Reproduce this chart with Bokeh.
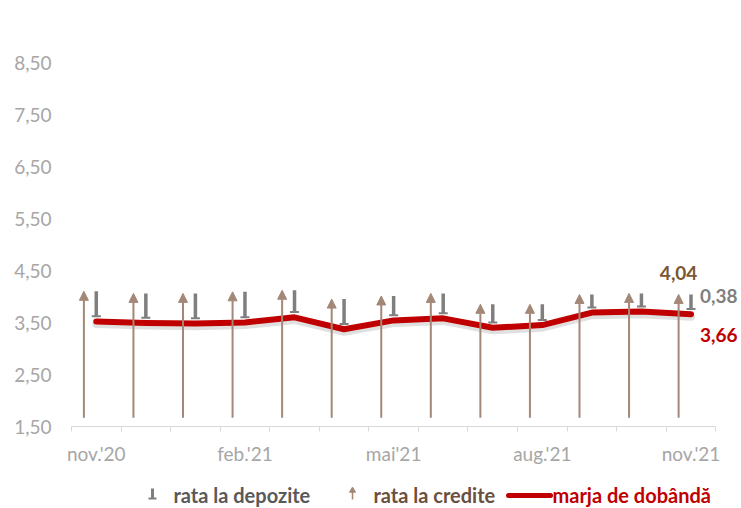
import numpy as np
from bokeh.plotting import figure
from bokeh.layouts import column
from bokeh.models import (Range1d, FixedTicker, Arrow, NormalHead, TeeHead,
                          ColumnDataSource, Label)
from bokeh.core.properties import value
from bokeh.embed import file_html
from bokeh.resources import INLINE

# ---------------- data ----------------
months = ["nov.'20", "dec.'20", "ian.'21", "feb.'21", "mar.'21", "apr.'21",
          "mai'21", "iun.'21", "iul.'21", "aug.'21", "sep.'21", "oct.'21", "nov.'21"]
credit = [4.10, 4.06, 4.06, 4.09, 4.12, 3.95, 4.01, 4.06, 3.85, 3.85, 4.04, 4.06, 4.04]
deposit = [0.58, 0.57, 0.58, 0.59, 0.52, 0.58, 0.47, 0.48, 0.45, 0.40, 0.35, 0.35, 0.38]
margin = [3.52, 3.49, 3.48, 3.50, 3.60, 3.37, 3.54, 3.58, 3.40, 3.45, 3.69, 3.71, 3.66]
y_ticks = [1.5, 2.5, 3.5, 4.5, 5.5, 6.5, 7.5, 8.5]
legend_labels = ["rata la depozite", "rata la credite", "marja de dobândă"]
label_every = 3
arrow_base = 1.67

FONT = "Lato"
BROWN = "#a38877"
BROWN_DARK = "#7a5632"
GRAY = "#7f7f7f"
RED = "#c00000"
AXIS_TXT = "#a6a6a6"

W, H_MAIN, H_LEG = 741, 470, 38
LEFT, TOP, FRAME_H = 71, 62, 364
CAT_PX = 49.56

n = len(months)
xc = np.arange(n) + 0.5          # category centres
xb = xc - 0.25                   # credit arrows slightly left of centre
fmt = lambda v: f"{v:.2f}".replace(".", ",")
x_end = (W - LEFT) / CAT_PX

p = figure(width=W, height=H_MAIN, output_backend="svg", toolbar_location=None,
           x_range=Range1d(0, x_end), y_range=Range1d(y_ticks[0], y_ticks[-1]))
p.min_border_left = LEFT
p.min_border_right = 0
p.min_border_top = TOP
p.min_border_bottom = H_MAIN - TOP - FRAME_H
p.outline_line_color = None
p.xgrid.visible = False
p.ygrid.visible = False

# y axis
ya = p.yaxis[0]
ya.ticker = FixedTicker(ticks=y_ticks, minor_ticks=[])
ya.major_label_overrides = {t: fmt(t) for t in y_ticks}
ya.axis_line_color = None
ya.major_tick_line_color = None
ya.minor_tick_line_color = None
ya.major_tick_out = 0
ya.major_label_standoff = 20
ya.major_label_text_font = FONT
ya.major_label_text_font_size = "19px"
ya.major_label_text_color = AXIS_TXT

# x axis
xa = p.xaxis[0]
lab_idx = list(range(0, n, label_every))
xa.ticker = FixedTicker(ticks=[float(xc[i]) for i in lab_idx],
                        minor_ticks=list(range(n + 1)))
xa.major_label_overrides = {float(xc[i]): months[i] for i in lab_idx}
xa.bounds = (0, n)
xa.axis_line_color = "#d9d9d9"
xa.major_tick_line_color = None
xa.major_tick_out = 0
xa.major_tick_in = 0
xa.minor_tick_line_color = "#d9d9d9"
xa.minor_tick_out = 5
xa.minor_tick_in = 0
xa.major_label_standoff = 10
xa.major_label_text_font = FONT
xa.major_label_text_font_size = "19px"
xa.major_label_text_color = AXIS_TXT

src = ColumnDataSource(dict(
    xc=xc, xb=xb, credit=credit, margin=margin,
    base=[arrow_base] * n,
    gend=[m + 0.1 for m in margin]))

# credit arrows (brown, pointing up)
p.add_layout(Arrow(x_start="xb", y_start="base", x_end="xb", y_end="credit",
                   source=src, line_color=BROWN, line_width=2,
                   end=NormalHead(size=9, fill_color=BROWN, line_color=BROWN, line_width=1)))
# deposit arrows (gray, pointing down from credit rate to the margin)
p.add_layout(Arrow(x_start="xc", y_start="credit", x_end="xc", y_end="gend",
                   source=src, line_color=GRAY, line_width=3.5,
                   end=TeeHead(size=9, line_color=GRAY, line_width=2)))

# margin line with soft shadow
p.line([float(v) for v in xc], [m - 0.05 for m in margin], line_color="#000000",
       line_alpha=0.12, line_width=8, line_join="round", line_cap="round")
p.line("xc", "margin", source=src, line_color=RED, line_width=6,
       line_join="round", line_cap="round")

# end labels
last = n - 1
p.add_layout(Label(x=float(xb[last]), y=credit[last], text=fmt(credit[last]),
                   y_offset=21, text_align="center", text_baseline="middle",
                   text_font=FONT, text_font_size="19px", text_font_style="bold",
                   text_color=BROWN_DARK))
p.add_layout(Label(x=float(xc[last]), y=credit[last], text=fmt(deposit[last]),
                   x_offset=9, y_offset=-2, text_align="left", text_baseline="middle",
                   text_font=FONT, text_font_size="19px", text_font_style="bold",
                   text_color=GRAY))
p.add_layout(Label(x=float(xc[last]), y=margin[last], text=fmt(margin[last]),
                   x_offset=9, y_offset=-21, text_align="left", text_baseline="middle",
                   text_font=FONT, text_font_size="19px", text_font_style="bold",
                   text_color=RED))

# ---------------- legend strip (page-pixel coordinates) ----------------
lg = figure(width=W, height=H_LEG, output_backend="svg", toolbar_location=None,
            x_range=Range1d(LEFT, W), y_range=Range1d(H_MAIN + H_LEG, H_MAIN))
lg.min_border_left = LEFT
lg.min_border_right = 0
lg.min_border_top = 0
lg.min_border_bottom = 0
lg.axis.visible = False
lg.grid.visible = False
lg.outline_line_color = None

# depozite icon
lg.segment(x0=[152], y0=[488], x1=[152], y1=[498], line_color=GRAY, line_width=3)
lg.segment(x0=[148], y0=[498], x1=[156], y1=[498], line_color=GRAY, line_width=2)
# credite icon
lg.segment(x0=[352], y0=[490], x1=[352], y1=[499], line_color=BROWN, line_width=1.5)
lg.scatter(x=[352], y=[490], marker="triangle", size=6, fill_color=BROWN, line_color=BROWN)
# marja icon
lg.segment(x0=[508], y0=[495], x1=[550], y1=[495], line_color=RED, line_width=5,
           line_cap="round")

lg.text(x=[173, 373, 552], y=[494, 494, 494], text=legend_labels,
        text_color=["#595959", "#6b5040", RED],
        text_font=value(FONT), text_font_size="20px", text_font_style="bold",
        text_align="left", text_baseline="middle")

layout = column(p, lg, spacing=0)
open("out.html", "w").write(file_html(layout, INLINE))
